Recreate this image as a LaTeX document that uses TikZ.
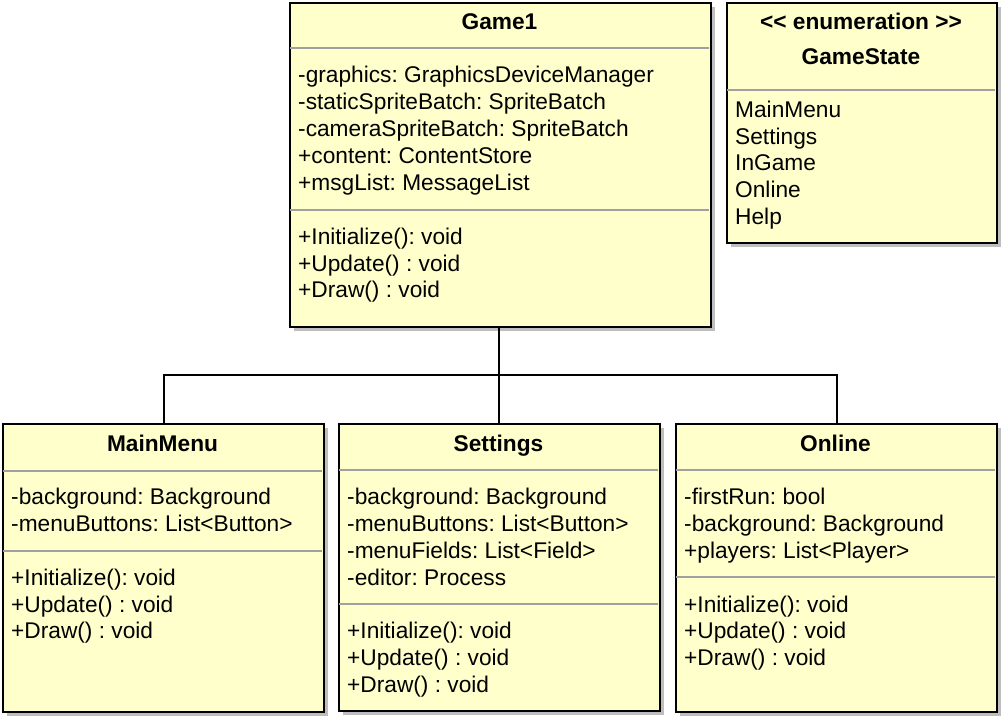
\documentclass[tikz,border=0pt]{standalone}
\usepackage{fontspec}
\setmainfont{Liberation Sans}
\frenchspacing
\usetikzlibrary{shadows}
\definecolor{umlfill}{RGB}{255,255,204}
\definecolor{sepgray}{RGB}{160,160,160}
\definecolor{shgray}{RGB}{190,190,190}
\begin{document}
\begin{tikzpicture}[x=1pt,y=-1pt,
  umlbox/.style={draw=black, line width=2pt, fill=umlfill, inner sep=0pt, anchor=north west,
    drop shadow={shadow xshift=4pt, shadow yshift=-4pt, fill=shgray, opacity=1}},
  sep/.style={draw=sepgray, line width=1.6pt},
  ttl/.style={font=\frenchspacing\bfseries\fontsize{22.7}{26}\selectfont, inner sep=0pt, anchor=base},
  itm/.style={font=\frenchspacing\fontsize{22.7}{26}\selectfont, inner sep=0pt, anchor=base west},
  conn/.style={draw=black, line width=2pt}]
\useasboundingbox (0,0) rectangle (1004,719);
% boxes
\node[umlbox, minimum width=421pt, minimum height=324pt] (game) at (289,2) {};
\node[umlbox, minimum width=270pt, minimum height=240pt] (state) at (726,2) {};
\node[umlbox, minimum width=321pt, minimum height=288pt] (mainmenu) at (2,423) {};
\node[umlbox, minimum width=321pt, minimum height=287pt] (settings) at (338,423) {};
\node[umlbox, minimum width=321pt, minimum height=288pt] (online) at (675,423) {};
% separators
\draw[sep] (290,48) -- (709,48);
\draw[sep] (290,210) -- (709,210);
\draw[sep] (727,90) -- (995,90);
\draw[sep] (3,471) -- (322,471);
\draw[sep] (3,551) -- (322,551);
\draw[sep] (339,470) -- (658,470);
\draw[sep] (339,604) -- (658,604);
\draw[sep] (676,470) -- (995,470);
\draw[sep] (676,577) -- (995,577);
% Game1
\node[ttl] (gameT) at (499.5,30) {Game1};
\node[itm] (g1) at (298,83) {-graphics: GraphicsDeviceManager};
\node[itm] (g2) at (298,110) {-staticSpriteBatch: SpriteBatch};
\node[itm] (g3) at (298,137) {-cameraSpriteBatch: SpriteBatch};
\node[itm] (g4) at (298,164) {+content: ContentStore};
\node[itm] (g5) at (298,191) {+msgList: MessageList};
\node[itm] (g6) at (298,245) {+Initialize(): void};
\node[itm] (g7) at (298,272) {+Update() : void};
\node[itm] (g8) at (298,298) {+Draw() : void};
% GameState
\node[ttl] (stS) at (861,30) {<\kern0pt< enumeration >\kern0pt>};
\node[ttl] (stT) at (861,65) {GameState};
\node[itm] (s1) at (735,118) {MainMenu};
\node[itm] (s2) at (735,145) {Settings};
\node[itm] (s3) at (735,171) {InGame};
\node[itm] (s4) at (735,198) {Online};
\node[itm] (s5) at (735,225) {Help};
% MainMenu
\node[ttl] (mT) at (162.5,451) {MainMenu};
\node[itm] (m1) at (11,504) {-background: Background};
\node[itm] (m2) at (11,531) {-menuButtons: List<Button>};
\node[itm] (m3) at (11,585) {+Initialize(): void};
\node[itm] (m4) at (11,612) {+Update() : void};
\node[itm] (m5) at (11,638) {+Draw() : void};
% Settings
\node[ttl] (sT) at (498.5,451) {Settings};
\node[itm] (e1) at (347,504) {-background: Background};
\node[itm] (e2) at (347,531) {-menuButtons: List<Button>};
\node[itm] (e3) at (347,558) {-menuFields: List<Field>};
\node[itm] (e4) at (347,585) {-editor: Process};
\node[itm] (e5) at (347,638) {+Initialize(): void};
\node[itm] (e6) at (347,665) {+Update() : void};
\node[itm] (e7) at (347,692) {+Draw() : void};
% Online
\node[ttl] (oT) at (835.5,451) {Online};
\node[itm] (o1) at (684,504) {-firstRun: bool};
\node[itm] (o2) at (684,531) {-background: Background};
\node[itm] (o3) at (684,558) {+players: List<Player>};
\node[itm] (o4) at (684,612) {+Initialize(): void};
\node[itm] (o5) at (684,638) {+Update() : void};
\node[itm] (o6) at (684,665) {+Draw() : void};
% connectors
\coordinate (j) at (499,375);
\draw[conn] (j |- game.south) -- (j);
\draw[conn] (j) -| (mainmenu.north);
\draw[conn] (j) -| (online.north);
\draw[conn] (j) -- (j |- settings.north);
\end{tikzpicture}
\end{document}
